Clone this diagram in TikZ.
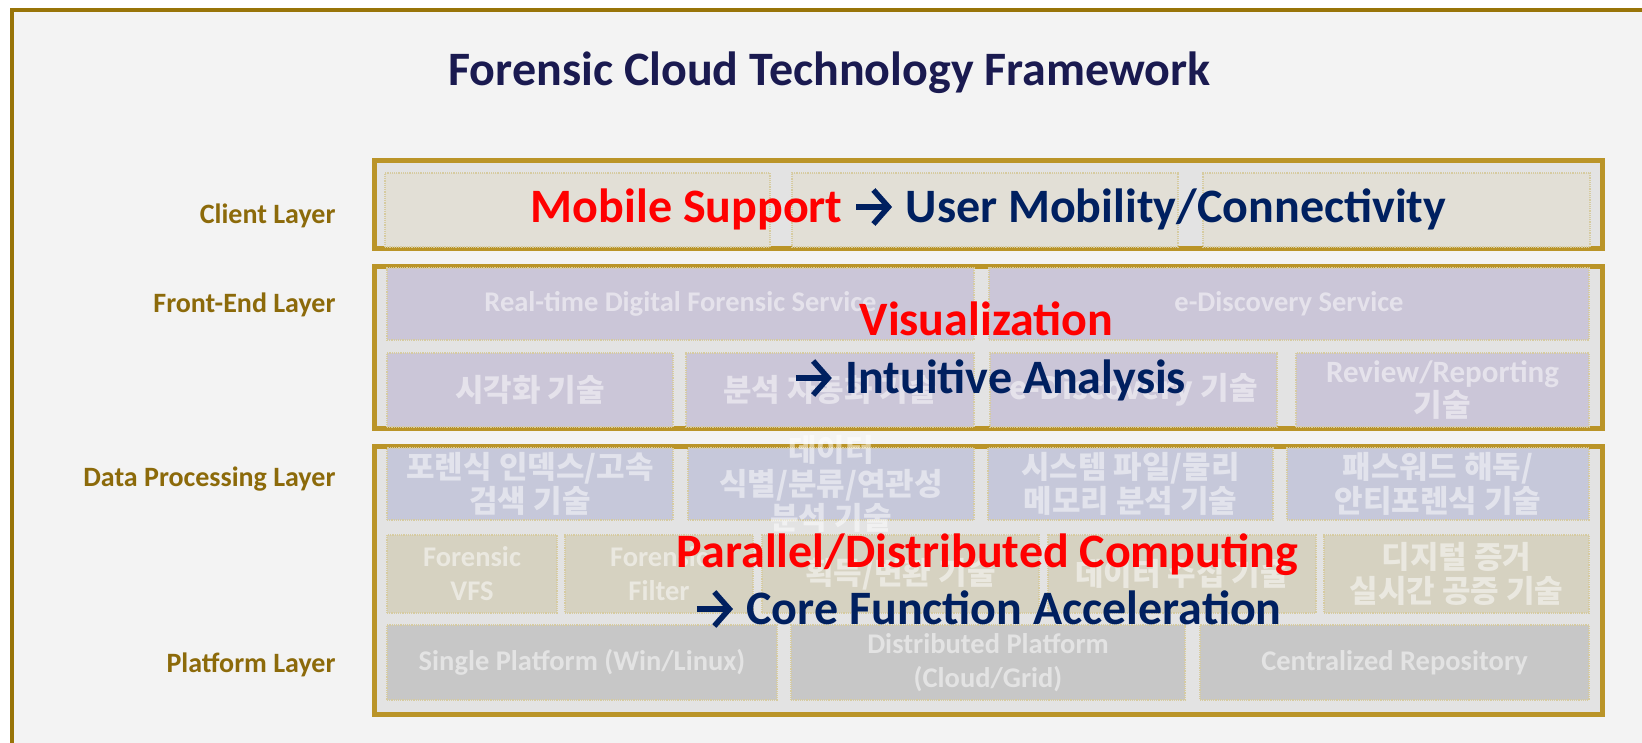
\documentclass[tikz,border=0pt]{standalone}
\usepackage{fontspec}
\setmainfont{Carlito}
\newfontfamily\kofont{Noto Sans CJK KR}
\usetikzlibrary{positioning}
\usetikzlibrary{arrows.meta}

\definecolor{framegold}{RGB}{152,116,8}
\definecolor{layergold}{RGB}{186,148,40}
\definecolor{labelgold}{RGB}{140,106,10}
\definecolor{titlenavy}{RGB}{26,26,80}
\definecolor{navy}{RGB}{0,32,96}
\definecolor{bggray}{RGB}{243,243,243}
\definecolor{layerfill}{RGB}{227,227,227}
\definecolor{clientfill}{RGB}{226,223,214}
\definecolor{frontfill}{RGB}{203,198,216}
\definecolor{datafill}{RGB}{198,200,218}
\definecolor{modfill}{RGB}{214,210,193}
\definecolor{platfill}{RGB}{199,199,199}
\definecolor{dotgold}{RGB}{214,203,160}

\tikzset{%
  layer/.style={draw=layergold, line width=5pt, fill=layerfill},
  ghost/.style={inner sep=0pt, align=center, text=white, text opacity=0.5,
    font=\bfseries\fontsize{28.5}{34}\selectfont},
  koghost/.style={ghost, font=\kofont\bfseries\fontsize{31}{34}\selectfont},
  cell/.style={ghost, draw=dotgold, densely dotted, line width=1.2pt},
  kocell/.style={koghost, draw=dotgold, densely dotted, line width=1.2pt},
  laylabel/.style={anchor=base east, text=labelgold, font=\bfseries\fontsize{28}{32}\selectfont},
  hot/.style={anchor=base, text=red, font=\bfseries\fontsize{48}{56}\selectfont},
  cool/.style={anchor=base, text=navy, font=\bfseries\fontsize{48}{56}\selectfont}
}

% arrow sign inside the key point lines
\newcommand{\goesto}{\tikz[baseline=0pt, x=1pt, y=1pt]
  \draw[navy, line width=5.5pt, -{Straight Barb[length=15pt, width=34pt]}] (0,15) -- (36,15);}

\begin{document}
\begin{tikzpicture}[x=1pt, y=-1pt]
\useasboundingbox (0,0) rectangle (1642,742);
\fill[white] (0,0) rectangle (1642,742);

% outer frame
\draw[framegold, line width=4pt, fill=bggray] (12,10) rectangle (1700,800);

\node[anchor=base, text=titlenavy, font=\bfseries\fontsize{48}{56}\selectfont] (title) at (829.5,85)
  {Forensic Cloud Technology Framework};

% layer names
\node[laylabel] (lclient) at (339,223) {Client Layer};
\node[laylabel] (lfront) at (339,312) {Front-End Layer};
\node[laylabel] (ldata) at (339,486) {Data Processing Layer};
\node[laylabel] (lplat) at (339,672) {Platform Layer};

% layers
\draw[layer] (374,160.5) rectangle (1602,248.5);
\draw[layer] (374,266.5) rectangle (1602,428);
\draw[layer] (374,446) rectangle (1602,714);

% client
\node[cell, fill=clientfill, minimum width=385pt, minimum height=74pt] (cl1) at (577.5,210) {};
\node[cell, fill=clientfill, minimum width=386pt, minimum height=74pt] (cl2) at (985,210) {};
\node[cell, fill=clientfill, minimum width=387pt, minimum height=74pt] (cl3) at (1396.5,210) {};

% front-end
\node[cell, fill=frontfill, minimum width=587pt, minimum height=72pt] (rtdf) at (680.5,304)
  {Real-time Digital Forensic Service};
\node[cell, fill=frontfill, minimum width=600pt, minimum height=72pt] (edisc) at (1289,304)
  {e-Discovery Service};
\node[kocell, fill=frontfill, minimum width=286pt, minimum height=74pt] (vis) at (530,390)
  {시각화 기술};
\node[kocell, fill=frontfill, minimum width=288pt, minimum height=74pt] (auto) at (830,390)
  {분석 자동화 기술};
\node[kocell, fill=frontfill, minimum width=287pt, minimum height=74pt] (edtech) at (1133.5,390)
  {e-Discovery 기술};
\node[kocell, fill=frontfill, minimum width=293pt, minimum height=74pt] (review) at (1442.5,390)
  {\fontspec{Carlito}\bfseries Review/Reporting\\기술};

% data processing
\node[kocell, fill=datafill, minimum width=286pt, minimum height=72pt] (index) at (530,484)
  {포렌식 인덱스/고속\\검색 기술};
\node[kocell, fill=datafill, minimum width=286pt, minimum height=72pt] (ident) at (831,484) {};
\node[koghost] (identtxt) at (ident) {데이터\\식별/분류/연관성\\분석 기술};
\node[kocell, fill=datafill, minimum width=285pt, minimum height=72pt] (sysmem) at (1130.5,484)
  {시스템 파일/물리\\메모리 분석 기술};
\node[kocell, fill=datafill, minimum width=302pt, minimum height=72pt] (passwd) at (1438,484)
  {패스워드 해독/\\안티포렌식 기술};

\node[cell, fill=modfill, minimum width=170pt, minimum height=78pt] (vfs) at (472,574)
  {Forensic\\VFS};
\node[cell, fill=modfill, minimum width=188pt, minimum height=78pt] (filter) at (659,574)
  {Forensic\\Filter};
\node[kocell, fill=modfill, minimum width=277pt, minimum height=78pt] (acq) at (900.5,574)
  {획득/변환 기술};
\node[kocell, fill=modfill, minimum width=268pt, minimum height=78pt] (collect) at (1182,574)
  {데이터 수집 기술};
\node[kocell, fill=modfill, minimum width=265pt, minimum height=78pt] (notary) at (1456.5,574)
  {디지털 증거\\실시간 공증 기술};

% platform
\node[cell, fill=platfill, minimum width=390pt, minimum height=75pt] (single) at (582,662.5)
  {Single Platform (Win/Linux)};
\node[cell, fill=platfill, minimum width=394pt, minimum height=75pt] (distr) at (988,662.5)
  {Distributed Platform\\(Cloud/Grid)};
\node[cell, fill=platfill, minimum width=389pt, minimum height=75pt] (repo) at (1394.5,662.5)
  {Centralized Repository};

% key points on top
\node[cool] (mobile) at (988.5,222)
  {\textcolor{red}{Mobile Support} \goesto{} User Mobility/Connectivity};
\node[hot] (visual) at (986.5,335) {Visualization};
\node[cool] (intuit) at (989.5,393) {\goesto{} Intuitive Analysis};
\node[hot] (parallel) at (987.5,567) {Parallel/Distributed Computing};
\node[cool] (accel) at (988,624) {\goesto{} Core Function Acceleration};
\end{tikzpicture}
\end{document}
